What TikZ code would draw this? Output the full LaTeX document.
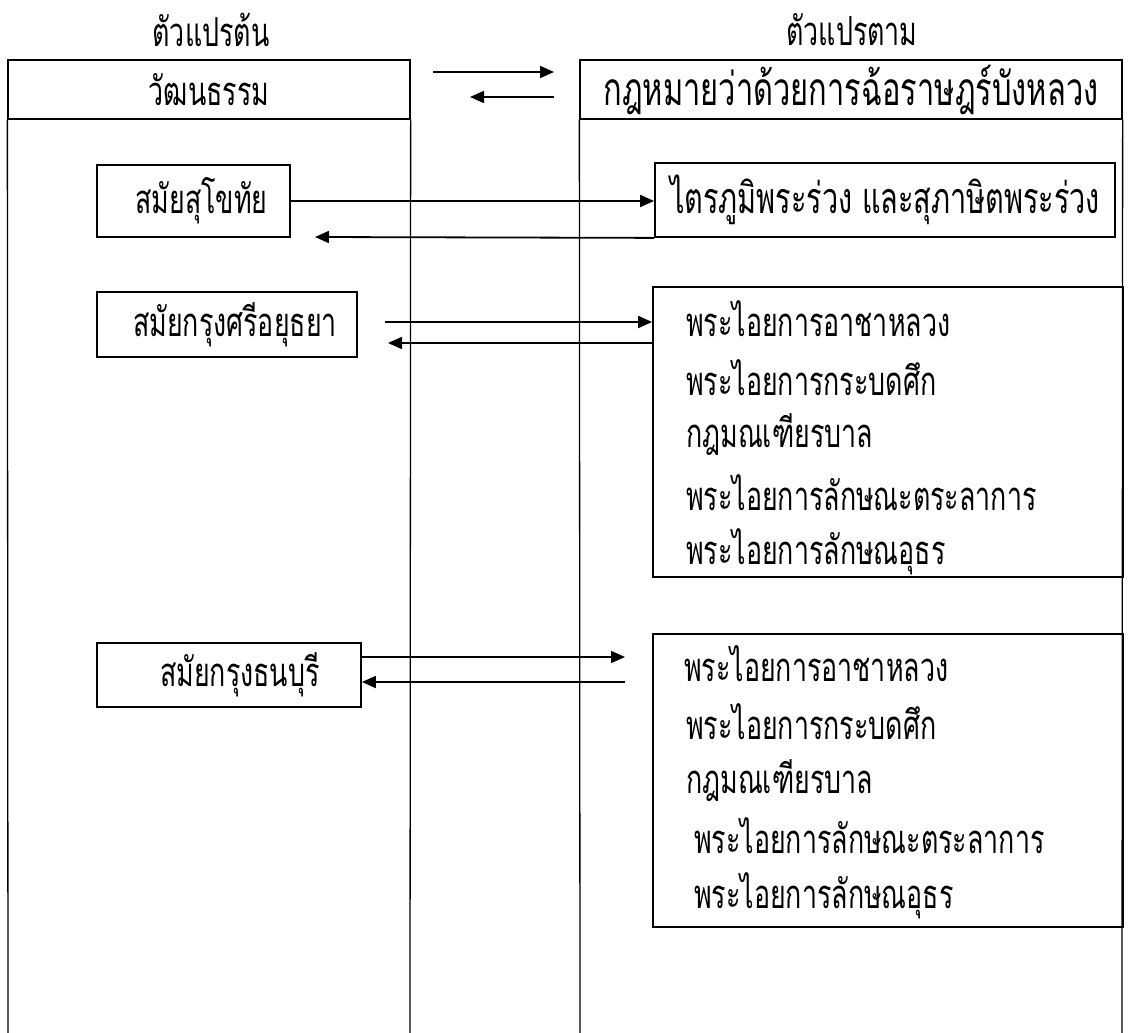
\documentclass[tikz,border=0pt]{standalone}
\usepackage{fontspec}
\newfontfamily\thaifont[Script=Thai,FakeStretch=0.67]{Loma}
\usetikzlibrary{arrows.meta}
\begin{document}
\begin{tikzpicture}[x=1pt,y=-1pt,
  every node/.style={font=\thaifont\fontsize{40}{44}\selectfont},
  title/.style={font=\thaifont\fontsize{40}{44}\selectfont},
  col/.style={line width=1.3pt},
  box/.style={draw, line width=1.8pt, inner sep=0pt},
  item/.style={anchor=west, inner sep=0pt},
  arr/.style={-{Triangle[length=14pt,width=12pt]}, line width=1.8pt}]
\useasboundingbox (0,0) rectangle (1130,1033);
% titles
\node[title] (ltitle) at (211,30) {ตัวแปรต้น};
\node[title] (rtitle) at (852,30) {ตัวแปรตาม};
% column headers
\node[draw, col, inner sep=0pt, minimum width=402pt, minimum height=59pt] (lhead) at (209,89.5) {วัฒนธรรม};
\node[draw, col, inner sep=0pt, minimum width=542pt, minimum height=59pt, font=\thaifont\fontsize{46}{50}\selectfont] (rhead) at (851,89.5) {กฎหมายว่าด้วยการฉ้อราษฎร์บังหลวง};
\coordinate (lbl) at (8,1033);
\coordinate (lbr) at (410,1033);
\coordinate (rbl) at (580,1033);
\coordinate (rbr) at (1122,1033);
\draw[col] (lhead.south west) -- (lbl);
\draw[col] (lhead.south east) -- (lbr);
\draw[col] (rhead.south west) -- (rbl);
\draw[col] (rhead.south east) -- (rbr);
% header arrows
\coordinate (ha1) at (433,72);
\coordinate (hb1) at (554,72);
\coordinate (ha2) at (554,97);
\coordinate (hb2) at (470,97);
\draw[arr] (ha1) -- (hb1);
\draw[arr] (ha2) -- (hb2);
% Sukhothai
\node[box, minimum width=193pt, minimum height=72pt] (suk) at (193.5,201) {\hspace{16pt}สมัยสุโขทัย};
\node[box, minimum width=460pt, minimum height=74pt, font=\thaifont\fontsize{43}{47}\selectfont] (tri) at (885,200) {ไตรภูมิพระร่วง และสุภาษิตพระร่วง};
\coordinate (sukback) at (315,237);
\draw[arr] (suk.east) -- (suk.east -| tri.west);
\draw[arr] (tri.south west) -- (sukback);
% Ayutthaya
\node[box, minimum width=260pt, minimum height=65pt] (ayu) at (227,324.5) {\hspace{16pt}สมัยกรุงศรีอยุธยา};
\node[box, minimum width=470pt, minimum height=290pt] (lista) at (888,432) {};
\node[item] (a1) at (686,319) {พระไอยการอาชาหลวง};
\node[item] (a2) at (686,378) {พระไอยการกระบดศึก};
\node[item] (a3) at (686,435) {กฎมณเฑียรบาล};
\node[item] (a4) at (686,493) {พระไอยการลักษณะตระลาการ};
\node[item] (a5) at (686,552) {พระไอยการลักษณอุธร};
\coordinate (ayuf) at (385,322);
\coordinate (ayub) at (388,343);
\draw[arr] (ayuf) -- (ayuf -| lista.west);
\draw[arr] (ayub -| lista.west) -- (ayub);
% Thonburi
\node[box, minimum width=264pt, minimum height=64pt] (thon) at (229,675) {\hspace{22pt}สมัยกรุงธนบุรี};
\node[box, minimum width=470pt, minimum height=293pt] (listb) at (888,780.5) {};
\node[item] (b1) at (684,664) {พระไอยการอาชาหลวง};
\node[item] (b2) at (686,722) {พระไอยการกระบดศึก};
\node[item] (b3) at (686,781) {กฎมณเฑียรบาล};
\node[item] (b4) at (694,836) {พระไอยการลักษณะตระลาการ};
\node[item] (b5) at (694,896) {พระไอยการลักษณอุธร};
\coordinate (thonf) at (625,657);
\coordinate (thonb) at (625,682);
\draw[arr] (thonf -| thon.east) -- (thonf);
\draw[arr] (thonb) -- (thonb -| thon.east);
\end{tikzpicture}
\end{document}
